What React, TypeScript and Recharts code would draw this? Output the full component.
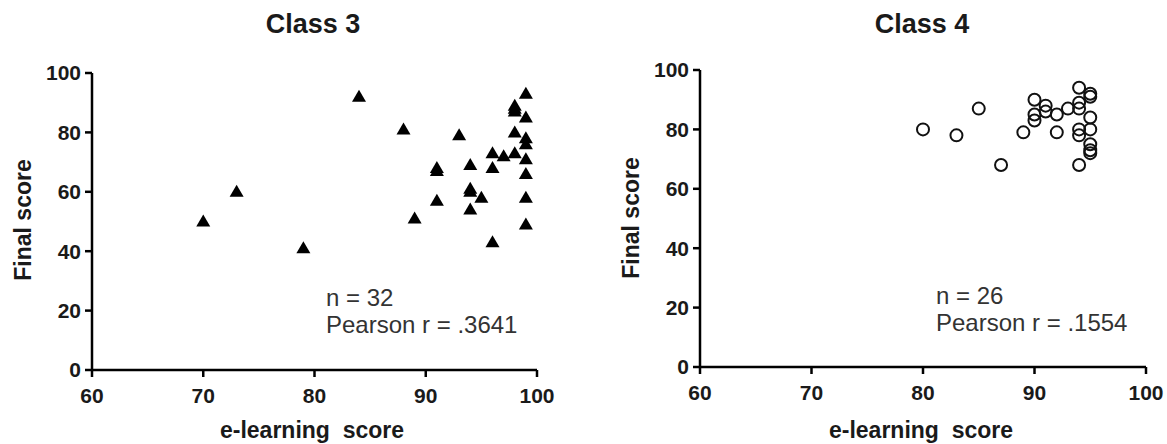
import React from 'react';
import { ScatterChart, Scatter, XAxis, YAxis } from 'recharts';

// Class 3 (triangles)
const class3Elearning = [84, 70, 73, 79, 88, 89, 91, 91, 91, 93, 94, 94, 94, 94, 95, 96, 96, 96, 97, 98, 98, 98, 98, 98, 99, 99, 99, 99, 99, 99, 99, 99];
const class3Final = [92, 50, 60, 41, 81, 51, 67, 68, 57, 79, 69, 61, 60, 54, 58, 73, 68, 43, 72, 73, 80, 87, 88, 89, 93, 85, 78, 76, 71, 66, 58, 49];

// Class 4 (open circles)
const class4Elearning = [80, 83, 85, 87, 89, 90, 90, 90, 91, 91, 92, 92, 93, 94, 94, 94, 94, 94, 94, 95, 95, 95, 95, 95, 95, 95];
const class4Final = [80, 78, 87, 68, 79, 90, 85, 83, 88, 86, 85, 79, 87, 94, 89, 87, 80, 78, 68, 92, 91, 84, 80, 75, 73, 72];

const xTicks = [60, 70, 80, 90, 100];
const yTicks = [0, 20, 40, 60, 80, 100];

const toPoints = (xs: number[], ys: number[]) => xs.map((x, i) => ({ x, y: ys[i] }));

const FONT = '"Liberation Sans", Arial, Helvetica, sans-serif';
const tickStyle = { fill: '#1a1a1a', fontSize: 21, fontWeight: 700, fontFamily: FONT };
const axisStroke = { stroke: '#000', strokeWidth: 2.5 };

const Triangle = (props: any) => {
  const { cx, cy } = props;
  return <polygon points={`${cx},${cy - 7} ${cx - 7},${cy + 5} ${cx + 7},${cy + 5}`} fill="#000" />;
};

const Ring = (props: any) => {
  const { cx, cy } = props;
  return <circle cx={cx} cy={cy} r={6} fill="none" stroke="#111" strokeWidth={2} />;
};

interface PanelProps {
  data: { x: number; y: number }[];
  shape: (p: any) => React.ReactElement;
  width: number;
  top: number;
  right: number;
  yAxisWidth: number;
  xAxisHeight: number;
}

const Panel: React.FC<PanelProps> = ({ data, shape, width, top, right, yAxisWidth, xAxisHeight }) => (
  <ScatterChart width={width} height={444} margin={{ top, right, bottom: 0, left: 0 }}>
    <XAxis
      type="number"
      dataKey="x"
      domain={[60, 100]}
      ticks={xTicks}
      height={xAxisHeight}
      axisLine={axisStroke}
      tickLine={axisStroke}
      tickSize={7}
      tickMargin={11}
      tick={tickStyle}
      interval={0}
    />
    <YAxis
      type="number"
      dataKey="y"
      domain={[0, 100]}
      ticks={yTicks}
      width={yAxisWidth}
      axisLine={axisStroke}
      tickLine={axisStroke}
      tickSize={7}
      tickMargin={4}
      tick={tickStyle}
      interval={0}
    />
    <Scatter data={data} shape={shape} isAnimationActive={false} />
  </ScatterChart>
);

const abs = (style: React.CSSProperties): React.CSSProperties => ({ position: 'absolute', fontFamily: FONT, whiteSpace: 'nowrap', ...style });

const Title = ({ text, cx }: { text: string; cx: number }) => (
  <div style={abs({ left: cx - 100, top: 11, width: 200, textAlign: 'center', fontSize: 27, lineHeight: '27px', fontWeight: 700, color: '#1a1a1a' })}>{text}</div>
);

const XLabel = ({ cx }: { cx: number }) => (
  <div style={abs({ left: cx - 150, top: 419, width: 300, textAlign: 'center', fontSize: 23, lineHeight: '23px', fontWeight: 700, color: '#1a1a1a', whiteSpace: 'pre' })}>
    {'e-learning  score'}
  </div>
);

const YLabel = ({ cx, cy }: { cx: number; cy: number }) => (
  <div style={abs({ left: cx - 100, top: cy - 12, width: 200, textAlign: 'center', fontSize: 23, lineHeight: '24px', fontWeight: 700, color: '#1a1a1a', transform: 'rotate(-90deg)' })}>
    Final score
  </div>
);

const Stats = ({ n, r, left, top }: { n: number; r: string; left: number; top: number }) => (
  <div style={abs({ left, top, fontSize: 24, lineHeight: '27px', color: '#333' })}>
    <div>n = {n}</div>
    <div>Pearson r = {r}</div>
  </div>
);

export default function App() {
  return (
    <div style={{ position: 'absolute', left: 0, top: 0, width: 1167, height: 444, background: '#fff', overflow: 'hidden' }}>
      <div style={{ position: 'absolute', left: 0, top: 0 }}>
        <Panel data={toPoints(class3Elearning, class3Final)} shape={Triangle} width={583} top={73} right={46} yAxisWidth={92} xAxisHeight={74} />
      </div>
      <div style={{ position: 'absolute', left: 583, top: 0 }}>
        <Panel data={toPoints(class4Elearning, class4Final)} shape={Ring} width={584} top={70} right={21} yAxisWidth={117} xAxisHeight={77} />
      </div>
      <Title text="Class 3" cx={313} />
      <Title text="Class 4" cx={922} />
      <XLabel cx={312} />
      <XLabel cx={921} />
      <YLabel cx={23} cy={220} />
      <YLabel cx={631} cy={218} />
      <Stats n={32} r=".3641" left={326} top={284} />
      <Stats n={26} r=".1554" left={936} top={282} />
    </div>
  );
}
